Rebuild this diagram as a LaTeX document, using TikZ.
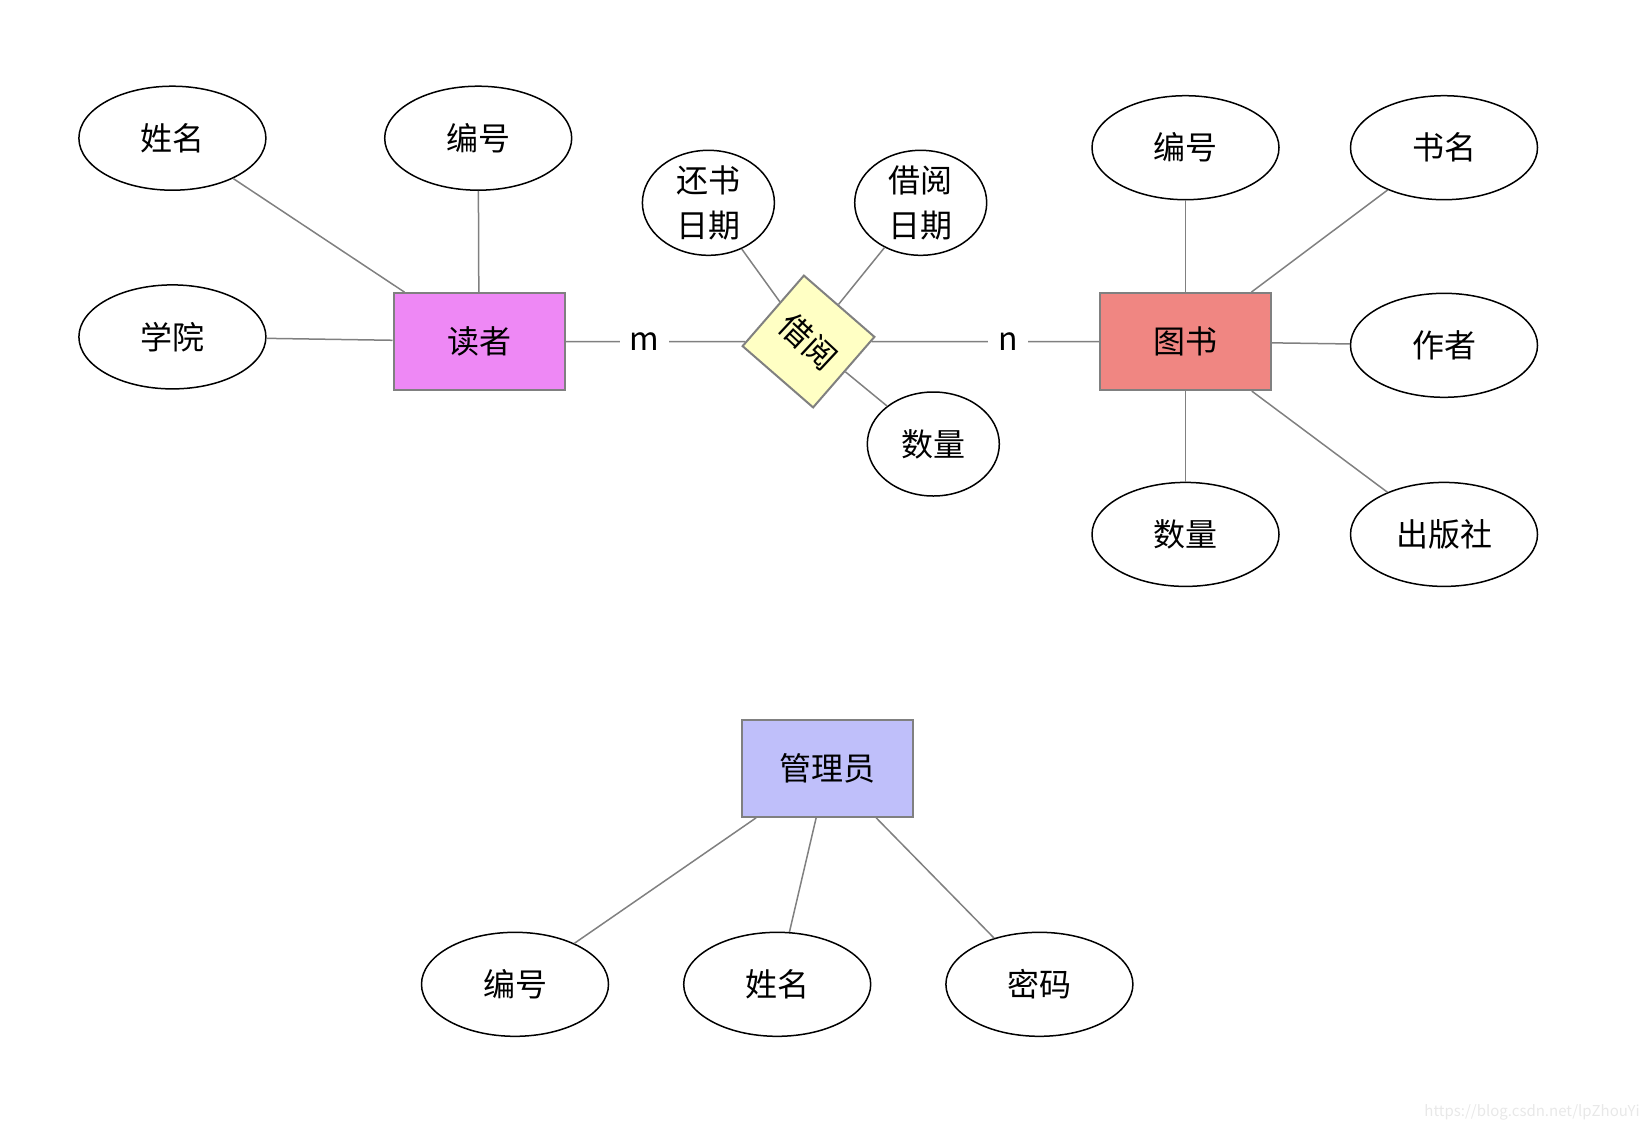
\documentclass[tikz,border=0pt]{standalone}
\usepackage{fontspec}
\setmainfont{Noto Sans CJK SC}
\usetikzlibrary{shapes.geometric}
\definecolor{readerpink}{RGB}{238,136,245}
\definecolor{bookred}{RGB}{240,134,130}
\definecolor{adminblue}{RGB}{191,191,250}
\definecolor{relyellow}{RGB}{255,255,196}
\definecolor{linegray}{RGB}{128,128,128}
\tikzset{
  entity/.style={draw=linegray,line width=1pt,minimum width=85.5pt,minimum height=48.5pt,font=\fontsize{16}{20}\selectfont},
  attr/.style={draw,ellipse,line width=0.75pt,minimum width=93.5pt,minimum height=52pt,inner sep=0pt,inner ysep=-3pt,align=center,font=\fontsize{16}{22.5}\selectfont},
  smallattr/.style={attr,minimum width=66pt,minimum height=52.5pt},
  link/.style={draw=linegray,line width=0.75pt},
  card/.style={fill=white,inner sep=5pt,font=\fontsize{16}{20}\selectfont},
}
\begin{document}
\begin{tikzpicture}[x=0.5pt,y=-0.5pt]
\useasboundingbox (0,0) rectangle (1648,1130);

% entities and relation
\node[entity,fill=readerpink] (reader) at (479,341.6) {读者};
\node[entity,fill=bookred] (book) at (1185.5,341.6) {图书};
\node[entity,fill=adminblue] (admin) at (827.7,768.3) {管理员};
\node[draw=linegray,line width=1pt,fill=relyellow,diamond,aspect=1,minimum width=66.5pt,minimum height=66.5pt,inner sep=-4pt,rotate=4,font=\fontsize{16}{20}\selectfont] (borrow) at (808.5,341.5) {\rotatebox{-47}{借阅}};

% reader
\node[attr] (rname) at (172.4,138.2) {姓名};
\node[attr] (rno) at (478.2,138.2) {编号};
\node[attr] (rschool) at (172.4,336.9) {学院};
\foreach \a in {rname,rno,rschool}
    \draw[link] (\a) -- (reader);

% borrow
\node[smallattr] (bret) at (708.4,202.8) {还书\\日期};
\node[smallattr] (bdate) at (920.7,202.8) {借阅\\日期};
\node[smallattr,minimum height=52pt] (bqty) at (933.3,444) {数量};
\foreach \a in {bret,bdate,bqty}
    \draw[link] (\a) -- (borrow);
\draw[link] (reader) -- node[card,pos=0.44] (m) {m} (borrow);
\draw[link] (borrow) -- node[card,pos=0.6] (n) {n} (book);

% book
\node[attr] (bkno) at (1185.5,147.7) {编号};
\node[attr] (bktitle) at (1444,147.7) {书名};
\node[attr] (bkauthor) at (1444,345.3) {作者};
\node[attr] (bkqty) at (1185.5,534.4) {数量};
\node[attr] (bkpress) at (1444,534.4) {出版社};
\foreach \a in {bkno,bktitle,bkauthor,bkqty,bkpress}
    \draw[link] (\a) -- (book);

% admin
\node[attr] (ano) at (515,984.3) {编号};
\node[attr] (aname) at (777.2,984.3) {姓名};
\node[attr] (apwd) at (1039.4,984.3) {密码};
\foreach \a in {ano,aname,apwd}
    \draw[link] (\a) -- (admin);

\node[anchor=east,inner sep=0pt,text=black!9,font=\fontsize{7.5}{9}\selectfont] (mark) at (1640,1112) {https://blog.csdn.net/lpZhouYi};
\end{tikzpicture}
\end{document}
